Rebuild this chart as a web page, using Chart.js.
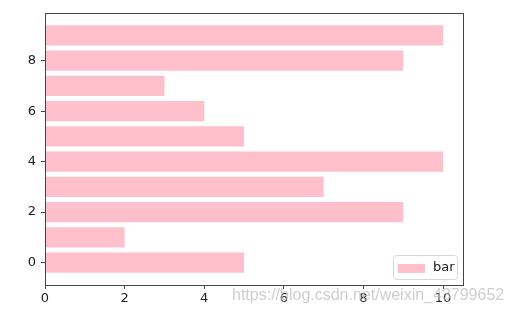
<!DOCTYPE html>
<html>
<head>
<meta charset="utf-8">
<script src="https://cdn.jsdelivr.net/npm/chart.js@4"></script>
<style>
  html, body { margin: 0; padding: 0; background: #fff; }
  #wrap { width: 512px; height: 313px; }
</style>
</head>
<body>
<div id="wrap"><canvas id="chart" width="512" height="313"></canvas></div>
<script>
// bar positions and lengths
var positions = [0, 1, 2, 3, 4, 5, 6, 7, 8, 9];
var values = [5, 2, 9, 7, 10, 5, 4, 3, 9, 10];
var xTicks = [0, 2, 4, 6, 8, 10];
var yTicks = [0, 2, 4, 6, 8];
var seriesName = "bar";
var watermark = "https://blog.csdn.net/weixin_43799652";

var pink = "rgb(255,192,203)";
var axisColor = "#444";
var tickFont = { family: "DejaVu Sans", size: 13 };

var points = [];
for (var i = 0; i < positions.length; i++) {
  points.push({ x: values[i], y: positions[i] });
}

// box round the axes, legend and the watermark
var framePlugin = {
  id: "frame",
  afterDraw: function(chart) {
    var ctx = chart.ctx;
    var a = chart.chartArea;
    ctx.save();
    ctx.strokeStyle = axisColor;
    ctx.lineWidth = 1;
    ctx.strokeRect(Math.round(a.left) + 0.5, Math.round(a.top) + 0.5,
      Math.round(a.right - a.left), Math.round(a.bottom - a.top));

    // legend, lower right
    var lw = 64, lh = 24;
    var lx = a.right - lw - 6, ly = a.bottom - lh - 6;
    ctx.fillStyle = "rgba(255,255,255,0.8)";
    ctx.strokeStyle = "#d8d8d8";
    ctx.beginPath();
    ctx.roundRect(lx + 0.5, ly + 0.5, lw, lh, 3);
    ctx.fill();
    ctx.stroke();
    ctx.fillStyle = pink;
    ctx.fillRect(lx + 5, ly + 9, 27, 9);
    ctx.fillStyle = "#222";
    ctx.font = "13px DejaVu Sans";
    ctx.textBaseline = "middle";
    ctx.fillText(seriesName, lx + 40, ly + 13);

    // watermark
    ctx.fillStyle = "rgba(190,190,190,0.75)";
    ctx.font = "16px Liberation Sans";
    ctx.fillText(watermark, 232, 296);
    ctx.restore();
  }
};

new Chart(document.getElementById("chart"), {
  type: "bar",
  data: {
    datasets: [{
      label: seriesName,
      data: points,
      backgroundColor: pink,
      borderWidth: 0,
      barPercentage: 0.8,
      categoryPercentage: 1.0
    }]
  },
  options: {
    indexAxis: "y",
    responsive: false,
    animation: false,
    layout: { padding: { top: 13, right: 49, left: 0, bottom: 0 } },
    plugins: { legend: { display: false }, tooltip: { enabled: false } },
    scales: {
      x: {
        type: "linear",
        min: 0,
        max: 10.5,
        offset: false,
        afterBuildTicks: function(axis) {
          axis.ticks = xTicks.map(function(v) { return { value: v }; });
        },
        afterFit: function(axis) { axis.height = 28; },
        grid: { drawOnChartArea: false, offset: false, color: axisColor, tickLength: 4 },
        border: { display: false },
        ticks: { color: "#222", font: tickFont, padding: 2, maxRotation: 0 }
      },
      y: {
        type: "linear",
        min: -0.89,
        max: 9.89,
        offset: false,
        afterBuildTicks: function(axis) {
          axis.ticks = yTicks.map(function(v) { return { value: v }; });
        },
        afterFit: function(axis) { axis.width = 45; },
        grid: { drawOnChartArea: false, offset: false, color: axisColor, tickLength: 4 },
        border: { display: false },
        ticks: { color: "#222", font: tickFont, padding: 5 }
      }
    }
  },
  plugins: [framePlugin]
});
</script>
</body>
</html>
